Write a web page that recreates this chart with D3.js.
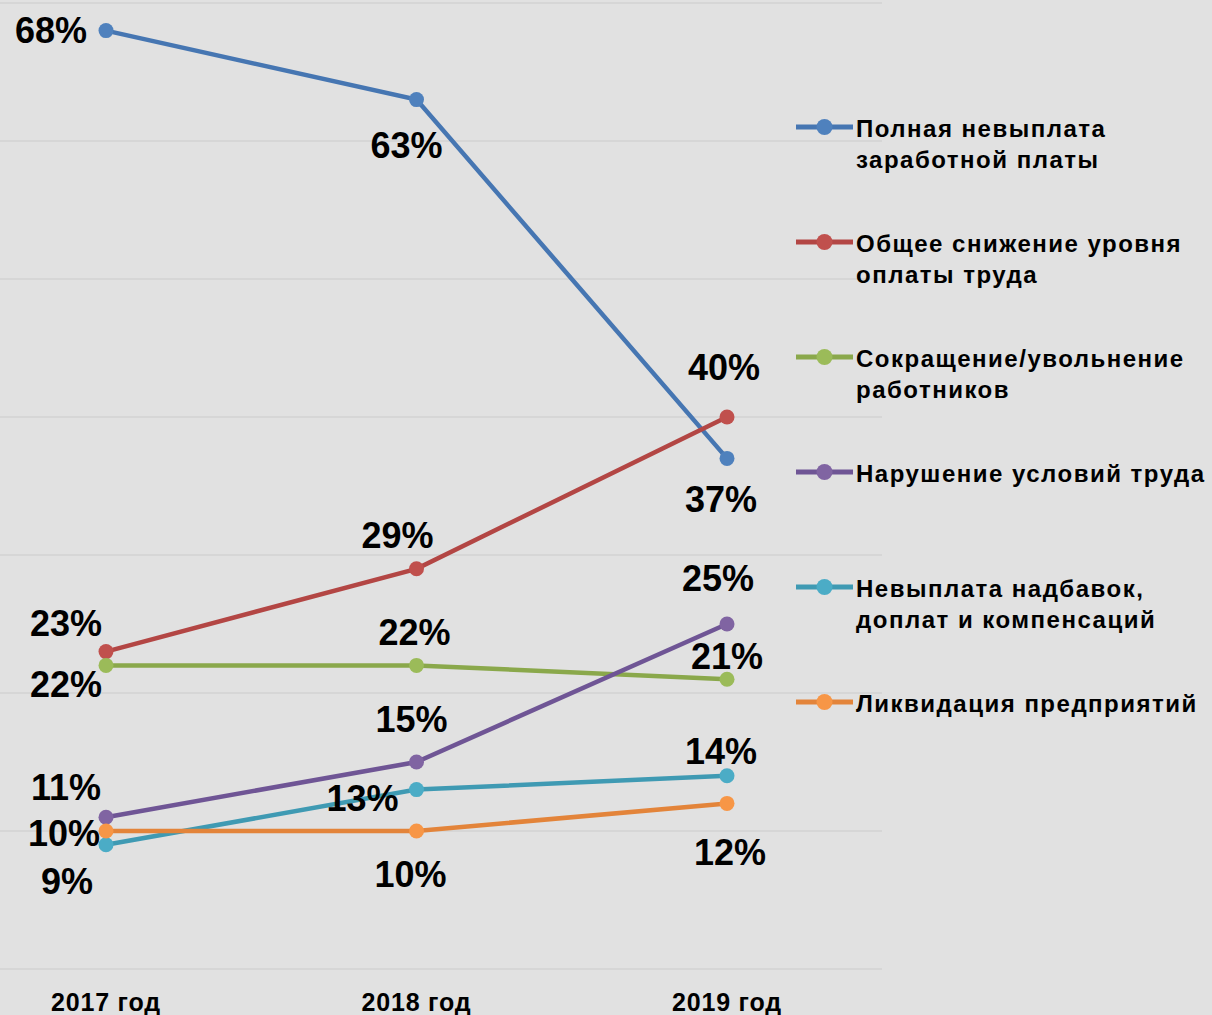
<!DOCTYPE html>
<html>
<head>
<meta charset="utf-8">
<script src="https://cdn.jsdelivr.net/npm/d3@7"></script>
<style>
  body { margin: 0; background: #e1e1e1; }
  svg { display: block; font-family: "Liberation Sans", Arial, sans-serif; font-weight: bold; }
</style>
</head>
<body>
<svg id="chart"></svg>
<script>
// Data
const years = ["2017 год", "2018 год", "2019 год"];
const seriesNames = [
  ["Полная невыплата", "заработной платы"],
  ["Общее снижение уровня", "оплаты труда"],
  ["Сокращение/увольнение", "работников"],
  ["Нарушение условий труда"],
  ["Невыплата надбавок,", "доплат и компенсаций"],
  ["Ликвидация предприятий"]
];
const fullUnpaid = [68, 63, 37];
const generalCut = [23, 29, 40];
const layoffs = [22, 22, 21];
const conditions = [11, 15, 25];
const allowances = [9, 13, 14];
const liquidation = [10, 10, 12];
const gridTicks = [0, 10, 20, 30, 40, 50, 60, 70];

const seriesValues = [fullUnpaid, generalCut, layoffs, conditions, allowances, liquidation];
const lineColors = ["#4676b2", "#b34644", "#8aa84b", "#6f5595", "#3f9ab3", "#e3843a"];
const dotColors = ["#4f81bd", "#c0504d", "#9bbb59", "#8064a2", "#4bacc6", "#f79646"];

// label offsets (dx, dy of baseline) relative to each point
const labelOffsets = [
  [[-55, 12], [-10, 58], [-6, 54]],
  [[-40, -16], [-19, -21], [-3, -37]],
  [[-40, 32], [-2, -20], [0, -10]],
  [[-40, -17], [-5, -30], [-9, -33]],
  [[-39, 49], [-54, 21], [-6, -12]],
  [[-42, 15], [-6, 56], [3, 62]]
];

const width = 1212, height = 1015;
const svg = d3.select("#chart").attr("width", width).attr("height", height);

const x = d3.scalePoint().domain(years).range([106, 727]).padding(0);
const y = d3.scaleLinear().domain([0, 70]).range([969, 3]);

// gridlines
svg.append("g")
  .selectAll("line")
  .data(gridTicks)
  .join("line")
  .attr("x1", 0)
  .attr("x2", 882)
  .attr("y1", d => y(d))
  .attr("y2", d => y(d))
  .attr("stroke", "#d6d6d6")
  .attr("stroke-width", 2);

// category labels
svg.append("g")
  .selectAll("text")
  .data(years)
  .join("text")
  .attr("x", d => x(d))
  .attr("y", 1011)
  .attr("text-anchor", "middle")
  .attr("font-size", 25)
  .attr("letter-spacing", 0.8)
  .attr("fill", "#000")
  .text(d => d);

const line = d3.line()
  .x((d, i) => x(years[i]))
  .y(d => y(d));

seriesValues.forEach((vals, s) => {
  const g = svg.append("g");
  g.append("path")
    .datum(vals)
    .attr("fill", "none")
    .attr("stroke", lineColors[s])
    .attr("stroke-width", 4.5)
    .attr("d", line);
  g.selectAll("circle")
    .data(vals)
    .join("circle")
    .attr("cx", (d, i) => x(years[i]))
    .attr("cy", d => y(d))
    .attr("r", 7.5)
    .attr("fill", dotColors[s]);
});

// value labels (drawn on top)
seriesValues.forEach((vals, s) => {
  svg.append("g")
    .selectAll("text")
    .data(vals)
    .join("text")
    .attr("x", (d, i) => x(years[i]) + labelOffsets[s][i][0])
    .attr("y", (d, i) => y(d) + labelOffsets[s][i][1])
    .attr("text-anchor", "middle")
    .attr("font-size", 36)
    .attr("fill", "#000")
    .text(d => d + "%");
});

// legend
const legend = svg.append("g")
  .selectAll("g")
  .data(seriesNames)
  .join("g")
  .attr("transform", (d, i) => `translate(796,${127 + i * 115})`);

legend.append("line")
  .attr("x1", 0).attr("x2", 57)
  .attr("stroke", (d, i) => lineColors[i])
  .attr("stroke-width", 5);
legend.append("circle")
  .attr("cx", 28.5)
  .attr("r", 8)
  .attr("fill", (d, i) => dotColors[i]);
legend.append("text")
  .attr("y", 10)
  .attr("font-size", 24)
  .attr("letter-spacing", 1.5)
  .attr("fill", "#000")
  .selectAll("tspan")
  .data(d => d)
  .join("tspan")
  .attr("x", 60)
  .attr("dy", (d, i) => i === 0 ? 0 : 31)
  .text(d => d);
</script>
</body>
</html>
